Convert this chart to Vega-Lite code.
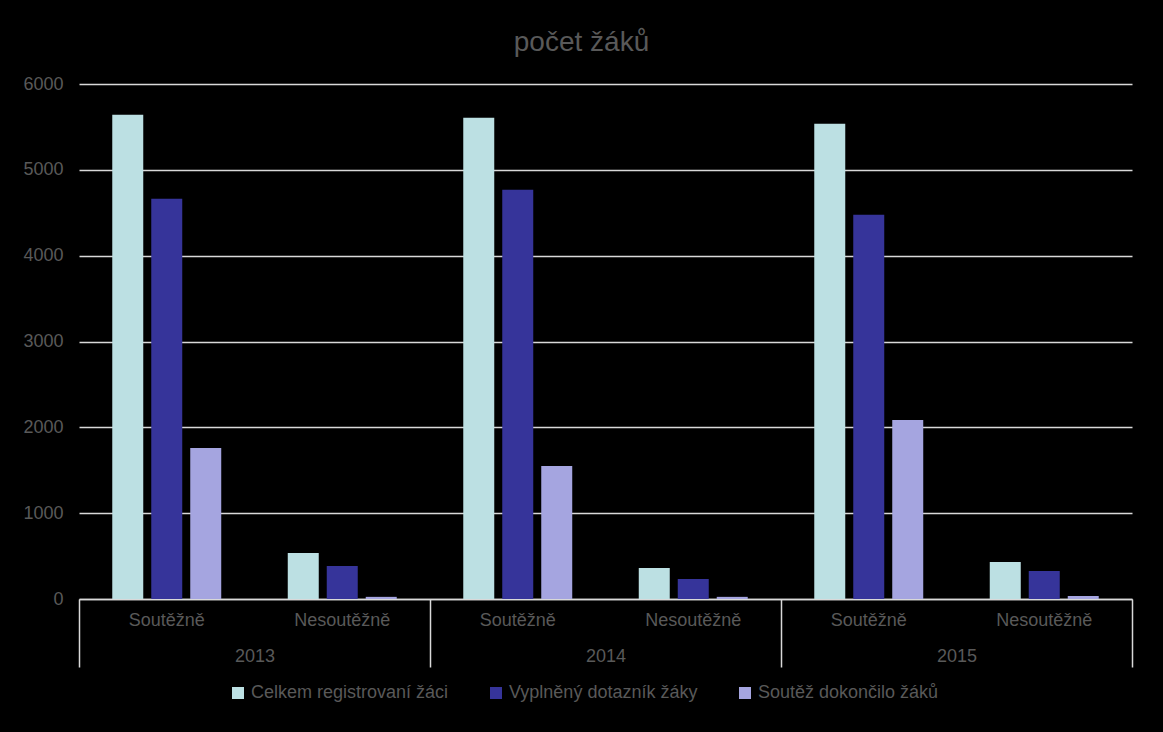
{
  "$schema": "https://vega.github.io/schema/vega-lite/v6.json",
  "width": 1053,
  "height": 515,
  "autosize": {"type": "none"},
  "padding": {"left": 79, "top": 84, "right": 31, "bottom": 133},
  "background": "#000000",
  "config": {
    "view": {"stroke": null},
    "font": "Liberation Sans"
  },
  "title": {
    "text": "počet žáků",
    "anchor": "middle",
    "dx": -24,
    "offset": 18,
    "fontSize": 28,
    "fontWeight": "normal",
    "color": "#595959",
    "font": "Liberation Sans"
  },
  "data": {
    "values": [
      {"year": "2013", "group": "2013 Soutěžně", "series": "Celkem registrovaní žáci", "value": 5641},
      {"year": "2013", "group": "2013 Soutěžně", "series": "Vyplněný dotazník žáky", "value": 4662},
      {"year": "2013", "group": "2013 Soutěžně", "series": "Soutěž dokončilo žáků", "value": 1760},
      {"year": "2013", "group": "2013 Nesoutěžně", "series": "Celkem registrovaní žáci", "value": 536},
      {"year": "2013", "group": "2013 Nesoutěžně", "series": "Vyplněný dotazník žáky", "value": 385},
      {"year": "2013", "group": "2013 Nesoutěžně", "series": "Soutěž dokončilo žáků", "value": 25},
      {"year": "2014", "group": "2014 Soutěžně", "series": "Celkem registrovaní žáci", "value": 5606},
      {"year": "2014", "group": "2014 Soutěžně", "series": "Vyplněný dotazník žáky", "value": 4767},
      {"year": "2014", "group": "2014 Soutěžně", "series": "Soutěž dokončilo žáků", "value": 1550},
      {"year": "2014", "group": "2014 Nesoutěžně", "series": "Celkem registrovaní žáci", "value": 361},
      {"year": "2014", "group": "2014 Nesoutěžně", "series": "Vyplněný dotazník žáky", "value": 233},
      {"year": "2014", "group": "2014 Nesoutěžně", "series": "Soutěž dokončilo žáků", "value": 25},
      {"year": "2015", "group": "2015 Soutěžně", "series": "Celkem registrovaní žáci", "value": 5536},
      {"year": "2015", "group": "2015 Soutěžně", "series": "Vyplněný dotazník žáky", "value": 4476},
      {"year": "2015", "group": "2015 Soutěžně", "series": "Soutěž dokončilo žáků", "value": 2086},
      {"year": "2015", "group": "2015 Nesoutěžně", "series": "Celkem registrovaní žáci", "value": 431},
      {"year": "2015", "group": "2015 Nesoutěžně", "series": "Vyplněný dotazník žáky", "value": 326},
      {"year": "2015", "group": "2015 Nesoutěžně", "series": "Soutěž dokončilo žáků", "value": 35}
    ]
  },
  "layer": [
    {
      "mark": {"type": "bar"},
      "encoding": {
        "x": {
          "field": "group",
          "type": "nominal",
          "sort": null,
          "scale": {"paddingInner": 0, "paddingOuter": 0},
          "axis": {
            "orient": "bottom",
            "title": null,
            "labelExpr": "split(datum.label, ' ')[1]",
            "labelAngle": 0,
            "labelFontSize": 18,
            "labelColor": "#595959",
            "labelPadding": 12,
            "ticks": false,
            "domain": true,
            "domainColor": "#D9D9D9",
            "domainWidth": 1.5,
            "grid": false
          }
        },
        "xOffset": {
          "field": "series",
          "type": "nominal",
          "sort": ["Celkem registrovaní žáci", "Vyplněný dotazník žáky", "Soutěž dokončilo žáků"],
          "scale": {"paddingInner": 0.205, "paddingOuter": 0.853}
        },
        "y": {
          "field": "value",
          "type": "quantitative",
          "scale": {"domain": [0, 6000]},
          "axis": {
            "title": null,
            "values": [0, 1000, 2000, 3000, 4000, 5000, 6000],
            "format": "d",
            "labelFontSize": 18,
            "labelColor": "#595959",
            "labelPadding": 16,
            "ticks": false,
            "domain": false,
            "grid": true,
            "gridColor": "#D9D9D9",
            "gridWidth": 1.5
          }
        },
        "color": {
          "field": "series",
          "type": "nominal",
          "sort": ["Celkem registrovaní žáci", "Vyplněný dotazník žáky", "Soutěž dokončilo žáků"],
          "scale": {
            "domain": ["Celkem registrovaní žáci", "Vyplněný dotazník žáky", "Soutěž dokončilo žáků"],
            "range": ["#BCE0E3", "#36349A", "#A5A5E0"]
          },
          "legend": {
            "title": null,
            "orient": "none",
            "direction": "horizontal",
            "legendX": 150,
            "legendY": 600,
            "symbolType": "square",
            "symbolSize": 144,
            "symbolStrokeWidth": 0,
            "labelFontSize": 18,
            "labelLimit": 0,
            "labelColor": "#595959",
            "labelOffset": 4,
            "columnPadding": 38
          }
        }
      }
    },
    {
      "mark": {"type": "point", "opacity": 0},
      "encoding": {
        "x": {
          "field": "year",
          "type": "nominal",
          "scale": {"paddingInner": 0, "paddingOuter": 0},
          "axis": {
            "orient": "bottom",
            "title": null,
            "labelAngle": 0,
            "labelFontSize": 18,
            "labelColor": "#595959",
            "labelPadding": -20,
            "ticks": true,
            "tickBand": "extent",
            "tickSize": 68,
            "tickColor": "#D9D9D9",
            "tickWidth": 1.5,
            "domain": false,
            "grid": false,
            "labelBaseline": "top",
            "labelOffset": 0
          }
        }
      }
    }
  ],
  "resolve": {"scale": {"x": "independent"}, "axis": {"x": "independent"}}
}
